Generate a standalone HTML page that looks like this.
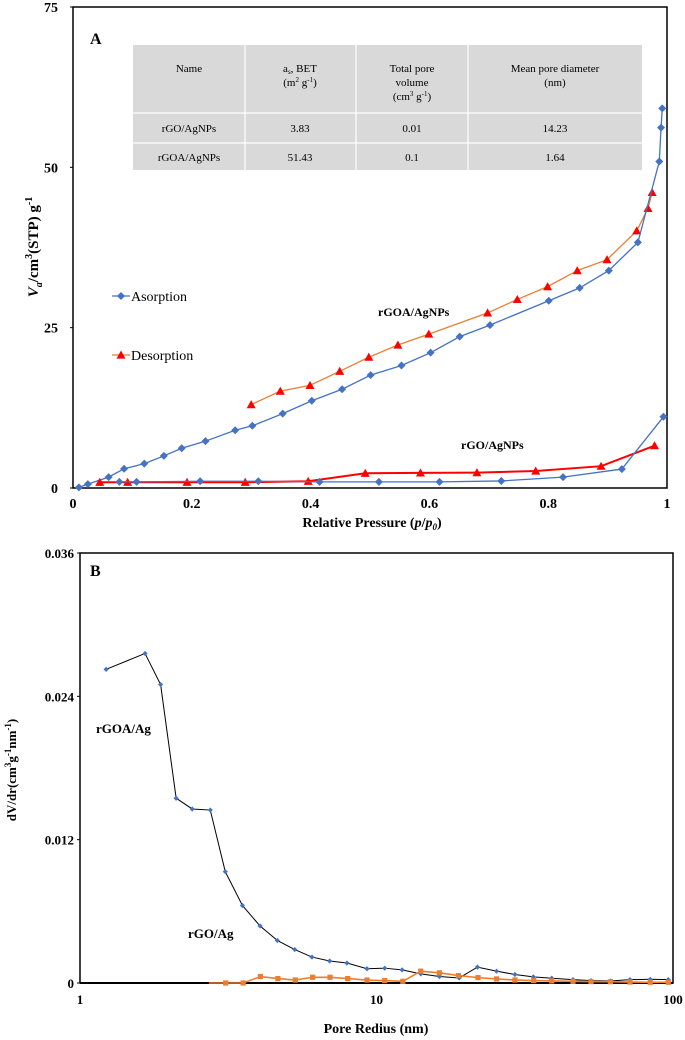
<!DOCTYPE html>
<html><head><meta charset="utf-8"><style>
body{margin:0;background:#fff}
svg{display:block;font-family:"Liberation Serif",serif}
</style></head><body>
<svg id="s" width="685" height="1040" viewBox="0 0 685 1040">
<g id="ga"></g>
<g id="gb"></g>
</svg>
<script>
// ---- Chart A data ----
const aAdsP=[0.01,0.025,0.06,0.086,0.12,0.153,0.183,0.223,0.273,0.302,0.353,0.402,0.453,0.501,0.553,0.602,0.651,0.702,0.801,0.853,0.902,0.951,0.987,0.99,0.992];
const aAdsV=[0.1,0.6,1.7,3.0,3.8,5.0,6.2,7.3,9.0,9.7,11.6,13.6,15.4,17.6,19.1,21.1,23.6,25.4,29.2,31.2,33.9,38.3,50.9,56.2,59.2];
const aDesP=[0.3,0.349,0.399,0.449,0.498,0.547,0.599,0.698,0.748,0.799,0.849,0.899,0.949,0.968,0.975];
const aDesV=[13.0,15.1,16.0,18.2,20.4,22.3,24.0,27.3,29.4,31.4,33.9,35.6,40.1,43.6,46.1];
const bAdsP=[0.078,0.107,0.214,0.312,0.415,0.515,0.617,0.721,0.825,0.924,0.994];
const bAdsV=[0.95,0.95,1.05,1.05,0.95,0.95,0.95,1.1,1.7,2.95,11.1];
const bDesP=[0.045,0.092,0.192,0.29,0.396,0.492,0.585,0.68,0.779,0.889,0.979];
const bDesV=[0.9,0.9,0.9,0.9,1.05,2.3,2.35,2.4,2.65,3.4,6.6];
const aXTicks=[0,0.2,0.4,0.6,0.8,1];
const aXTickLabels=["0","0.2","0.4","0.6","0.8","1"];
const aYTicks=[0,25,50,75];
// ---- Chart B data ----
const rGOAr=[1.225,1.657,1.87,2.11,2.39,2.75,3.09,3.53,4.05,4.63,5.3,6.06,6.95,7.95,9.29,10.66,12.2,14.1,16.3,19.0,21.9,25.4,29.3,33.8,39.0,46.0,52.9,61.5,71.6,83.8,96.4];
const rGOAv=[0.02626,0.02759,0.02499,0.01547,0.01457,0.01448,0.00932,0.00649,0.00477,0.00356,0.0028,0.00217,0.00184,0.00167,0.00119,0.00124,0.0011,0.00076,0.00054,0.00042,0.00133,0.00099,0.00071,0.00051,0.0004,0.00028,0.0002,0.00017,0.00028,0.00031,0.00028];
const rGOr=[3.1,3.55,4.06,4.65,5.32,6.09,6.97,8.0,9.29,10.66,12.27,14.1,16.3,18.9,22.0,25.4,29.3,33.9,39.0,46.0,52.9,61.5,71.6,83.8,96.4];
const rGOv=[0,0,0.00054,0.00037,0.00025,0.00048,0.00048,0.00037,0.00025,0.0002,0.00014,0.00099,0.00085,0.00062,0.00045,0.00034,0.00025,0.0002,0.00017,0.00014,0.00012,0.00011,0.00008,0.00006,0.00006];
const bYTicks=[0,0.012,0.024,0.036];
const bYTickLabels=["0","0.012","0.024","0.036"];
const bXTicks=[1,10,100];

const NS="http://www.w3.org/2000/svg";
function mk(parent,tag,attrs,text){const e=document.createElementNS(NS,tag);for(const k in attrs)e.setAttribute(k,attrs[k]);if(text!==undefined)e.textContent=text;parent.appendChild(e);return e;}

// Chart A axes
const ax=p=>73+p*594, ay=v=>488-v*481/75;
const ga=document.getElementById('ga');
let e;
e=mk(ga,'rect',{x:73,y:7,width:594,height:481,fill:'none',stroke:'#000','stroke-width':1.5});


aYTicks.forEach(t=>{e=mk(ga,'text',{x:58,y:ay(t)+5,'text-anchor':'end','font-size':14,'font-weight':'bold'},String(t));


mk(ga,'line',{x1:70,x2:73,y1:ay(t),y2:ay(t),stroke:'#000'});});
aXTicks.forEach((t,i)=>{e=mk(ga,'text',{x:ax(t),y:508,'text-anchor':'middle','font-size':14,'font-weight':'bold'},aXTickLabels[i]);

});
e=mk(ga,'text',{x:0,y:0,transform:'translate(38,247) rotate(-90)','text-anchor':'middle','font-size':15,'font-weight':'bold'});
e.innerHTML='<tspan font-style="italic">V</tspan><tspan font-size="10" dy="4" font-style="italic">a</tspan><tspan dy="-4">/cm</tspan><tspan font-size="10" dy="-6">3</tspan><tspan dy="6">(STP) g</tspan><tspan font-size="10" dy="-6">-1</tspan>';


e=mk(ga,'text',{x:372,y:527,'text-anchor':'middle','font-size':14,'font-weight':'bold'});
e.innerHTML='Relative Pressure (<tspan font-style="italic">p</tspan>/<tspan font-style="italic">p</tspan><tspan font-size="9" dy="3" font-style="italic">0</tspan><tspan dy="-3">)</tspan>';


e=mk(ga,'text',{x:90,y:44,'font-size':16,'font-weight':'bold'},'A');



// table
const tg=mk(ga,'g',{});


mk(tg,'rect',{x:133,y:45,width:509,height:125,fill:'#d9d9d9'});
[245,356,468].forEach(x=>mk(tg,'line',{x1:x,x2:x,y1:45,y2:170,stroke:'#fff','stroke-width':1.2}));
[113,143].forEach(y=>mk(tg,'line',{x1:133,x2:642,y1:y,y2:y,stroke:'#fff','stroke-width':1.2}));
const cx=[189,300,412,555];
function tt(x,y,html){const t=mk(tg,'text',{x:x,y:y,'text-anchor':'middle','font-size':11});t.innerHTML=html;return t;}
tt(cx[0],72,'Name');
tt(cx[1],72,'a<tspan font-size="7" dy="2">s</tspan><tspan dy="-2">, BET</tspan>');
tt(cx[1],86,'(m<tspan font-size="7" dy="-4">2</tspan><tspan dy="4"> g</tspan><tspan font-size="7" dy="-4">-1</tspan><tspan dy="4">)</tspan>');
tt(cx[2],72,'Total pore');tt(cx[2],86,'volume');
tt(cx[2],100,'(cm<tspan font-size="7" dy="-4">3</tspan><tspan dy="4"> g</tspan><tspan font-size="7" dy="-4">-1</tspan><tspan dy="4">)</tspan>');
tt(cx[3],72,'Mean pore diameter');tt(cx[3],86,'(nm)');
[['rGO/AgNPs','3.83','0.01','14.23',132],['rGOA/AgNPs','51.43','0.1','1.64',161]].forEach(r=>{for(let i=0;i<4;i++)tt(cx[i],r[4],r[i]);});

function diamond(g,x,y,c,s){return mk(g,'path',{d:`M${x} ${y-s}L${x+s} ${y}L${x} ${y+s}L${x-s} ${y}Z`,fill:c});}
function tri(g,x,y,c,s){return mk(g,'path',{d:`M${x} ${y-s}L${x+s} ${y+s*0.8}L${x-s} ${y+s*0.8}Z`,fill:c});}
function series(g,X,Y,fx,fy,lineC,lw,mark,mc,ms,name){
  const sg=mk(g,'g',{});
  
  
  mk(sg,'polyline',{points:X.map((x,i)=>fx(x)+','+fy(Y[i])).join(' '),fill:'none',stroke:lineC,'stroke-width':lw});
  X.forEach((x,i)=>{const m=mark(sg,fx(x),fy(Y[i]),mc,ms);
    
    });
}
series(ga,aDesP,aDesV,ax,ay,'#ED7D31',1.3,tri,'#FF0000',4.5,'rgoa-desorption');
series(ga,aAdsP,aAdsV,ax,ay,'#4472C4',1.3,diamond,'#4472C4',4,'rgoa-adsorption');
series(ga,bDesP,bDesV,ax,ay,'#FF0000',2,tri,'#FF0000',4.5,'rgo-desorption');
series(ga,bAdsP,bAdsV,ax,ay,'#4472C4',1.3,diamond,'#4472C4',4,'rgo-adsorption');
// legend
const lg=mk(ga,'g',{});


mk(lg,'line',{x1:112,x2:130,y1:296,y2:296,stroke:'#4472C4','stroke-width':1.3});diamond(lg,121,296,'#4472C4',4);
mk(lg,'text',{x:131,y:301,'font-size':14},'Asorption');
mk(lg,'line',{x1:112,x2:130,y1:355,y2:355,stroke:'#ED7D31','stroke-width':1.3});tri(lg,121,355,'#FF0000',4.5);
mk(lg,'text',{x:131,y:360,'font-size':14},'Desorption');
e=mk(ga,'text',{x:378,y:316,'font-size':12,'font-weight':'bold'},'rGOA/AgNPs');


e=mk(ga,'text',{x:461,y:449,'font-size':12,'font-weight':'bold'},'rGO/AgNPs');



// Chart B
const bx=r=>80+Math.log10(r)*296.5, by=v=>983-v*430/0.036;
const gb=document.getElementById('gb');
e=mk(gb,'rect',{x:80,y:553,width:593,height:430,fill:'none',stroke:'#000','stroke-width':1.5});


mk(gb,'line',{x1:80,x2:673,y1:983,y2:983,stroke:'#000','stroke-width':2});
bYTicks.forEach((t,i)=>{e=mk(gb,'text',{x:74,y:by(t)+5,'text-anchor':'end','font-size':13,'font-weight':'bold'},bYTickLabels[i]);


mk(gb,'line',{x1:77,x2:80,y1:by(t),y2:by(t),stroke:'#000'});});
bXTicks.forEach(t=>{e=mk(gb,'text',{x:bx(t),y:1004,'text-anchor':'middle','font-size':13,'font-weight':'bold'},String(t));

});
e=mk(gb,'text',{x:0,y:0,transform:'translate(16,770) rotate(-90)','text-anchor':'middle','font-size':13,'font-weight':'bold'});
e.innerHTML='dV/dr(cm<tspan font-size="9" dy="-5">3</tspan><tspan dy="5">g</tspan><tspan font-size="9" dy="-5">-1</tspan><tspan dy="5">nm</tspan><tspan font-size="9" dy="-5">-1</tspan><tspan dy="5">)</tspan>';


e=mk(gb,'text',{x:376,y:1033,'text-anchor':'middle','font-size':14,'font-weight':'bold'},'Pore Redius (nm)');


e=mk(gb,'text',{x:90,y:576,'font-size':16,'font-weight':'bold'},'B');


function sq(g,x,y,c,s){return mk(g,'rect',{x:x-s,y:y-s,width:2*s,height:2*s,fill:c});}
function star(g,x,y,c,s){return diamond(g,x,y,c,s);}
mk(gb,'line',{x1:bx(2.72),x2:bx(3.1),y1:by(0),y2:by(0),stroke:'#ED7D31','stroke-width':1.5});
series(gb,rGOAr,rGOAv,bx,by,'#000',1,star,'#4472C4',2.6,'rgoa-ag-psd');
series(gb,rGOr,rGOv,bx,by,'#ED7D31',1.6,sq,'#ED7D31',2.6,'rgo-ag-psd');
e=mk(gb,'text',{x:96,y:733,'font-size':13,'font-weight':'bold'},'rGOA/Ag');


e=mk(gb,'text',{x:188,y:938,'font-size':13,'font-weight':'bold'},'rGO/Ag');


</script>
</body></html>
